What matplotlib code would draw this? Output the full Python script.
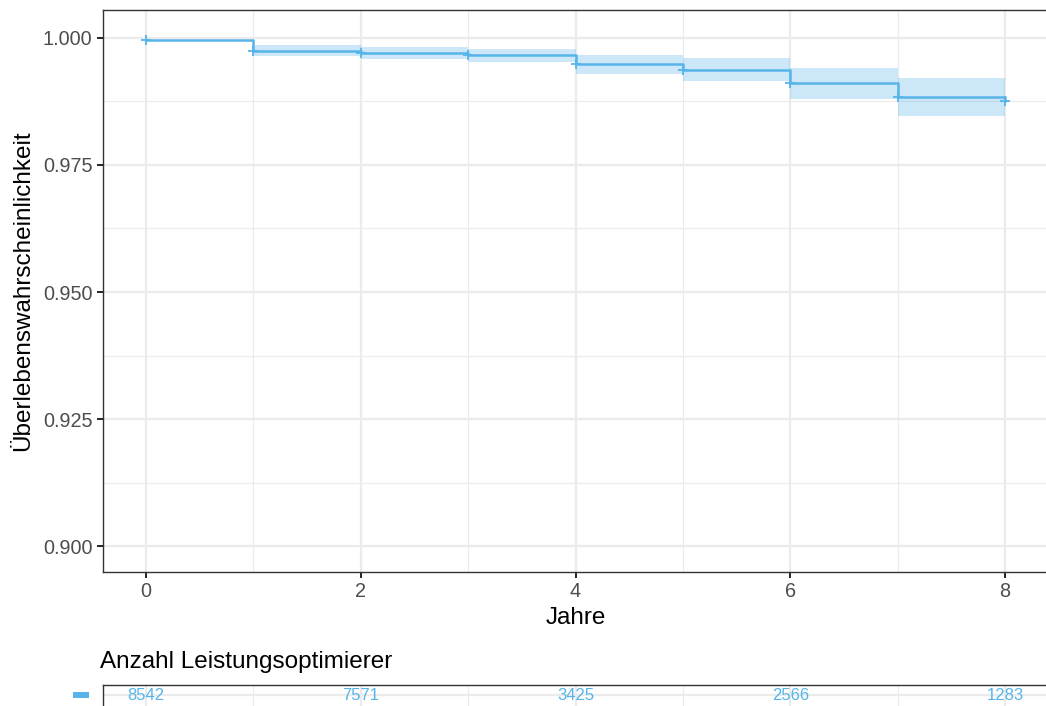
import numpy as np
import matplotlib
matplotlib.use("Agg")
import matplotlib.pyplot as plt

plt.rcParams['font.family'] = ['Liberation Sans', 'DejaVu Sans']

# Kaplan-Meier estimate
times = [0, 1, 2, 3, 4, 5, 6, 7, 8]
surv = [0.9996, 0.9975, 0.9970, 0.9966, 0.9948, 0.9937, 0.9911, 0.9884, 0.9876]
lower = [0.9996, 0.9965, 0.9958, 0.9952, 0.9930, 0.9916, 0.9880, 0.9847, 0.9847]
upper = [0.9996, 0.9986, 0.9982, 0.9978, 0.9967, 0.9960, 0.9940, 0.9922, 0.9922]
censor_t = [0, 1, 2, 3, 4, 5, 6, 7, 8]

risk_t = [0, 2, 4, 6, 8]
risk_n = [8542, 7571, 3425, 2566, 1283]

yticks = [0.900, 0.925, 0.950, 0.975, 1.000]
xticks = [0, 2, 4, 6, 8]

blue = '#56B4E9'
grid_c = '#EBEBEB'
text_c = '#4D4D4D'

W, H = 1046, 706
fig = plt.figure(figsize=(W / 100, H / 100), dpi=100)

ax = fig.add_axes([103 / W, 1 - 572 / H, 945 / W, 562 / H])
ax.set_xlim(-0.4, 8.4)
ax.set_ylim(0.8949, 1.0055)

# grid (major + minor like theme_bw)
for x in np.arange(1, 8, 2):
    ax.axvline(x, color=grid_c, lw=0.8, zorder=0)
for y in np.arange(0.9125, 1.0, 0.025):
    ax.axhline(y, color=grid_c, lw=0.8, zorder=0)
for x in xticks:
    ax.axvline(x, color=grid_c, lw=1.6, zorder=0)
for y in yticks:
    ax.axhline(y, color=grid_c, lw=1.6, zorder=0)

ax.fill_between(times, lower, upper, step='post', color=blue, alpha=0.3, lw=0, zorder=2)
ax.step(times, surv, where='post', color=blue, lw=1.8, zorder=3)
cens_y = [surv[times.index(t)] for t in censor_t]
ax.plot(censor_t, cens_y, '+', color=blue, ms=7, mew=1.3, zorder=4)

ax.set_xticks(xticks)
ax.set_xticklabels([str(x) for x in xticks])
ax.set_yticks(yticks)
ax.set_yticklabels([f'{y:.3f}' for y in yticks])
ax.tick_params(colors='black', labelcolor=text_c, labelsize=14.3, length=4, width=1.2)
ax.set_xlabel('Jahre', fontsize=17.5, labelpad=4)
ax.set_ylabel('Überlebenswahrscheinlichkeit', fontsize=17.5, labelpad=6)
for s in ax.spines.values():
    s.set_color('#333333')
    s.set_linewidth(1.0)

# risk table
fig.text(100 / W, 1 - 662 / H, 'Anzahl Leistungsoptimierer', fontsize=17.5,
         ha='left', va='center')
tab = fig.add_axes([103 / W, 1 - 725 / H, 945 / W, 40 / H])
tab.set_xlim(-0.4, 8.4)
tab.set_ylim(0, 1)
for x in np.arange(1, 8, 2):
    tab.axvline(x, color=grid_c, lw=0.8, zorder=0)
for x in xticks:
    tab.axvline(x, color=grid_c, lw=1.6, zorder=0)
tab.axhline(0.75, color=grid_c, lw=1.6, zorder=0)
for t, n in zip(risk_t, risk_n):
    tab.text(t, 0.75, str(n), color=blue, fontsize=12, ha='center', va='center')
tab.plot([-0.68, -0.53], [0.75, 0.75], color=blue, lw=4.3, clip_on=False,
         solid_capstyle='butt')
tab.set_xticks([])
tab.set_yticks([])
for s in tab.spines.values():
    s.set_color('#333333')
    s.set_linewidth(1.0)

fig.savefig('out.png', dpi=100)
